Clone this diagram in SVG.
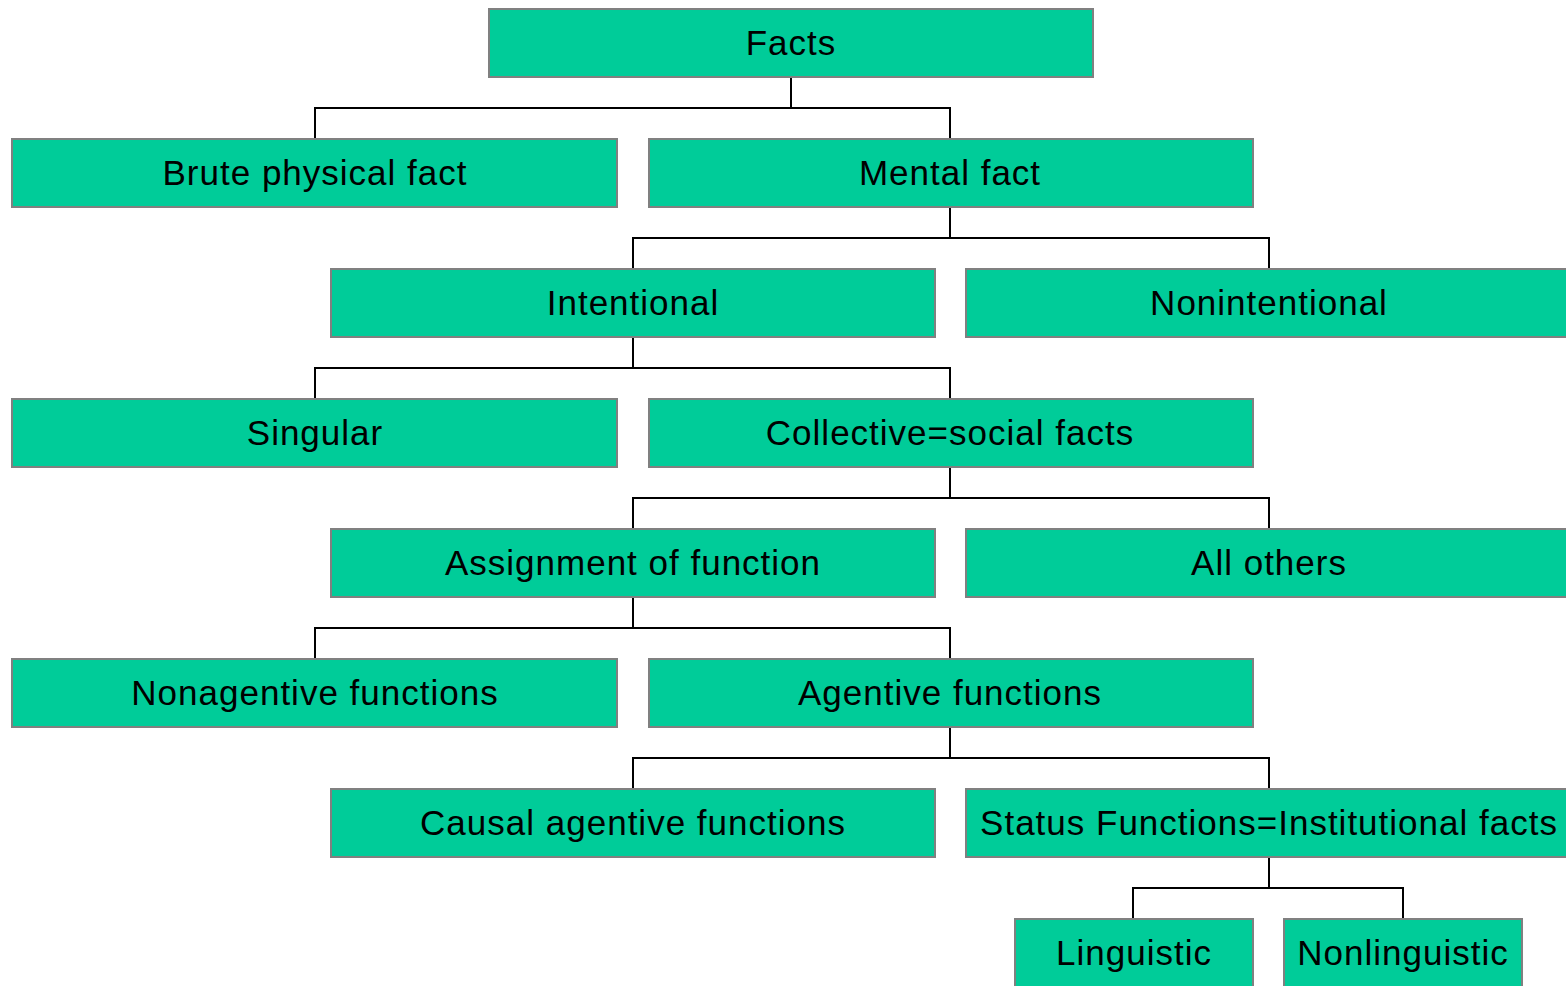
<svg xmlns="http://www.w3.org/2000/svg" width="1566" height="986" viewBox="0 0 1566 986">
<style>
.b{fill:#00CC99;stroke:#808080;stroke-width:2}
.t{font-family:"Liberation Sans",Arial,sans-serif;font-size:35px;letter-spacing:1px;fill:#000;text-anchor:middle}
.c{fill:none;stroke:#000;stroke-width:2}
</style>
<rect width="1566" height="986" fill="#fff"/>
<g id="connectors">
<path class="c" d="M791 77V108M315 139V108H950V139"/>
<path class="c" d="M950 207V238M633 269V238H1269V269"/>
<path class="c" d="M633 337V368M315 399V368H950V399"/>
<path class="c" d="M950 467V498M633 529V498H1269V529"/>
<path class="c" d="M633 597V628M315 659V628H950V659"/>
<path class="c" d="M950 727V758M633 789V758H1269V789"/>
<path class="c" d="M1269 857V888M1133 919V888H1403V919"/>
</g>
<g id="facts"><rect class="b" x="489" y="9" width="604" height="68"/><text class="t" x="791" y="55">Facts</text></g>
<g id="brute"><rect class="b" x="12" y="139" width="605" height="68"/><text class="t" x="315" y="185">Brute physical fact</text></g>
<g id="mental"><rect class="b" x="649" y="139" width="604" height="68"/><text class="t" x="950" y="185">Mental fact</text></g>
<g id="intentional"><rect class="b" x="331" y="269" width="604" height="68"/><text class="t" x="633" y="315">Intentional</text></g>
<g id="nonintentional"><rect class="b" x="966" y="269" width="606" height="68"/><text class="t" x="1269" y="315">Nonintentional</text></g>
<g id="singular"><rect class="b" x="12" y="399" width="605" height="68"/><text class="t" x="315" y="445">Singular</text></g>
<g id="collective"><rect class="b" x="649" y="399" width="604" height="68"/><text class="t" x="950" y="445">Collective=social facts</text></g>
<g id="assignment"><rect class="b" x="331" y="529" width="604" height="68"/><text class="t" x="633" y="575">Assignment of function</text></g>
<g id="allothers"><rect class="b" x="966" y="529" width="606" height="68"/><text class="t" x="1269" y="575">All others</text></g>
<g id="nonagentive"><rect class="b" x="12" y="659" width="605" height="68"/><text class="t" x="315" y="705">Nonagentive functions</text></g>
<g id="agentive"><rect class="b" x="649" y="659" width="604" height="68"/><text class="t" x="950" y="705">Agentive functions</text></g>
<g id="causal"><rect class="b" x="331" y="789" width="604" height="68"/><text class="t" x="633" y="835">Causal agentive functions</text></g>
<g id="status"><rect class="b" x="966" y="789" width="606" height="68"/><text class="t" x="1269" y="835">Status Functions=Institutional facts</text></g>
<g id="linguistic"><rect class="b" x="1015" y="919" width="238" height="80"/><text class="t" x="1134" y="965">Linguistic</text></g>
<g id="nonlinguistic"><rect class="b" x="1284" y="919" width="238" height="80"/><text class="t" x="1403" y="965">Nonlinguistic</text></g>
</svg>
